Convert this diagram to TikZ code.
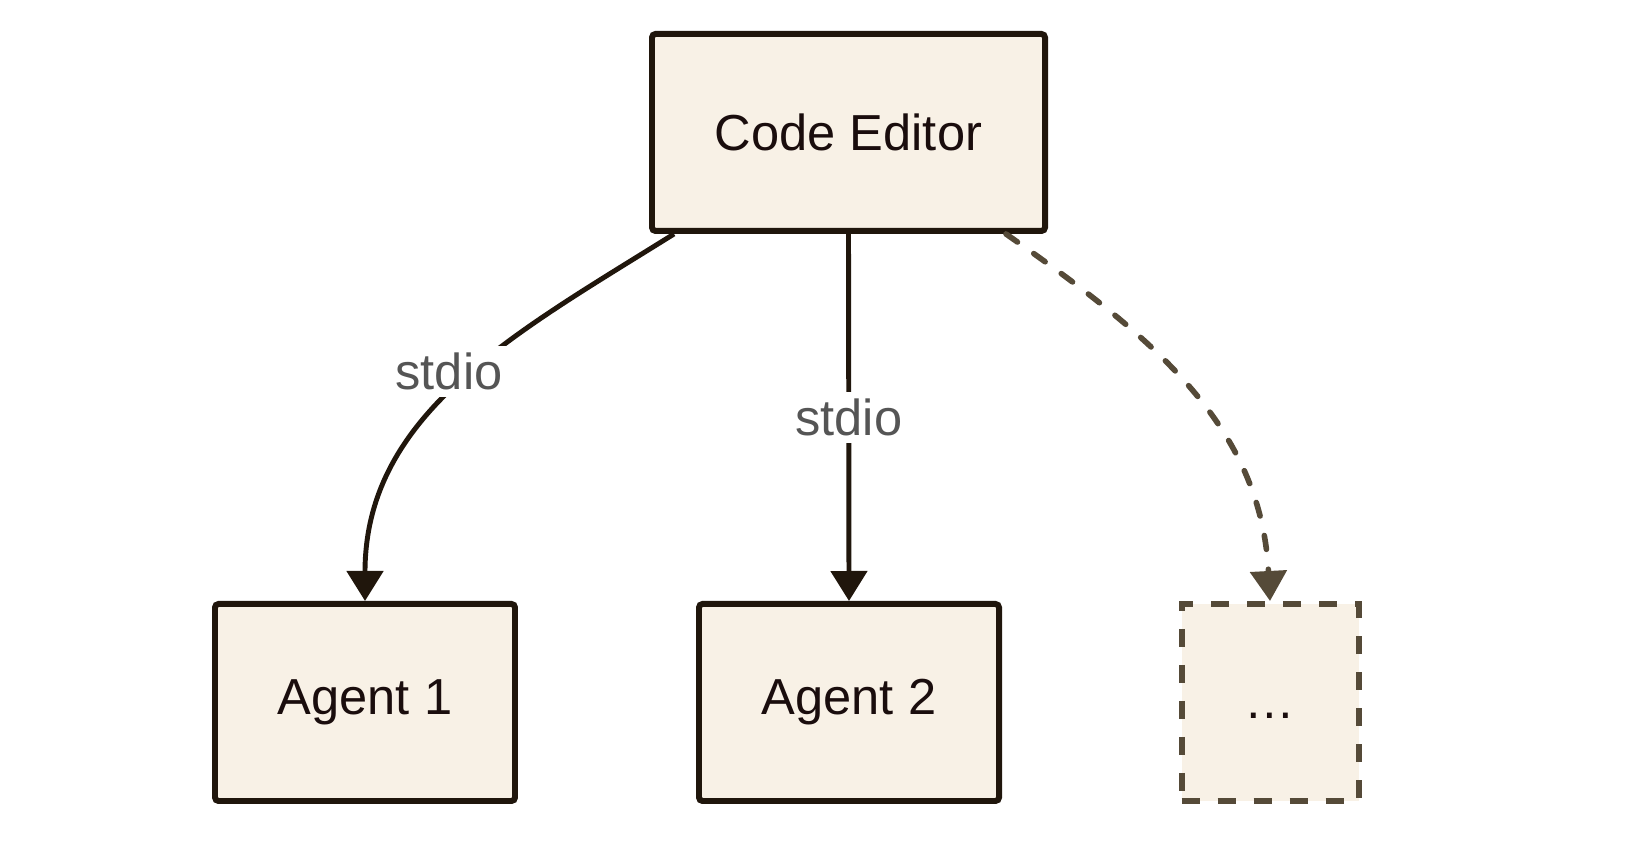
\documentclass[tikz,border=0pt]{standalone}
\usepackage{fontspec}
\setmainfont{Liberation Sans}
\usetikzlibrary{arrows.meta}
\definecolor{edge}{HTML}{20160C}
\definecolor{paper}{HTML}{F8F1E6}
\definecolor{ink}{HTML}{1A0D0D}
\definecolor{grey}{HTML}{555555}
\definecolor{mud}{HTML}{554A38}

\begin{document}
\begin{tikzpicture}
      \tikzstyle{box}=[rectangle,draw=edge,fill=paper,line width=1.7pt,rounded corners=1pt,text=ink,minimum height=1.97cm,font=\fontsize{14.4}{17}\selectfont]
      \tikzstyle{more}=[box,draw=mud,line width=1.7pt,rounded corners=0pt,dash pattern=on 0.18cm off 0.18cm]
      \tikzstyle{link}=[draw=edge,line width=1.4pt,-{Triangle[length=0.3cm,width=0.36cm]}]
      \tikzstyle{lbl}=[fill=white,text=grey,inner sep=2pt,font=\fontsize{14.4}{17}\selectfont]
      \useasboundingbox (0,0) rectangle (16.34,8.44);
      \node[box,minimum width=3.93cm] (editor) at (8.485,7.115) {Code Editor};
      \node[box,minimum width=3cm] (agent1) at (3.65,1.415) {Agent 1};
      \node[box,minimum width=3cm] (agent2) at (8.49,1.415) {Agent 2};
      \node[more,minimum width=1.77cm,text height=0.32cm,text depth=0pt] (others) at (12.7,1.415) {…};
      \draw[link] ([xshift=0.25cm]editor.south west) to[out=212,in=90] node[lbl,pos=0.46,xshift=-0.25cm] {stdio} (agent1.north);
      \draw[link] (editor.south) -- node[lbl] {stdio} (agent2.north);
      \draw[link,draw=mud,line width=1.6pt,line cap=round,dash pattern=on 0.14cm off 0.2cm,-{Triangle[length=0.3cm,width=0.36cm,fill=mud,line cap=butt]}] ([xshift=-0.42cm]editor.south east) to[out=325,in=93] (others.north);
\end{tikzpicture}
\end{document}
